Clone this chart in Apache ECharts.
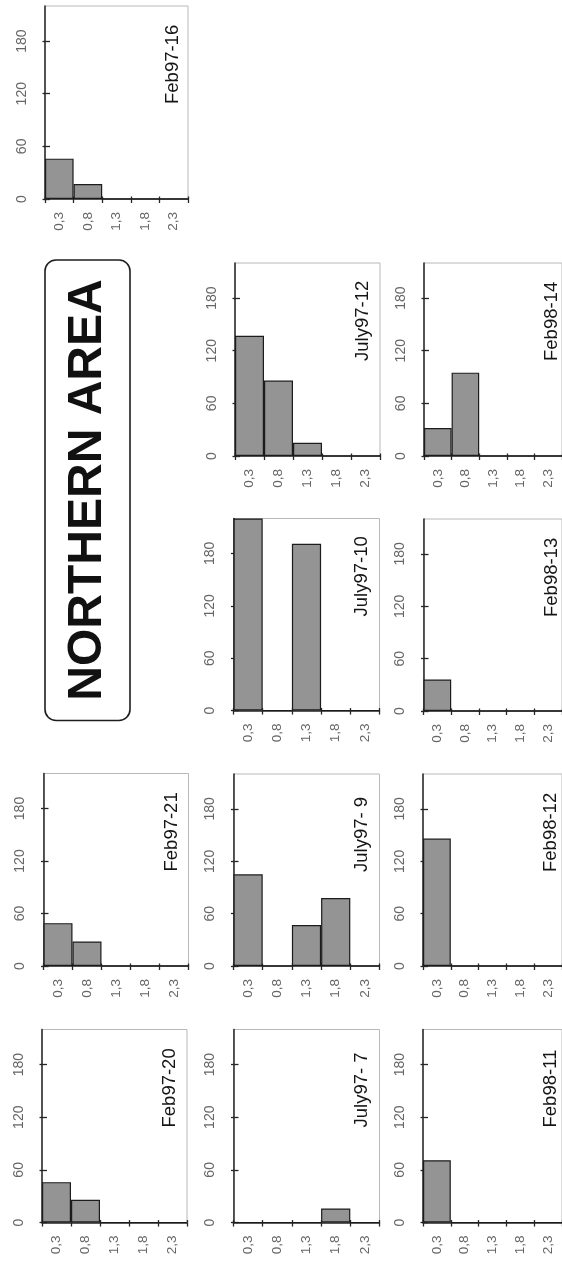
<!DOCTYPE html>
<html>
<head>
<meta charset="utf-8">
<script src="https://cdn.jsdelivr.net/npm/echarts@6/dist/echarts.min.js"></script>
<style>
  html, body { margin: 0; padding: 0; background: #ffffff; }
  #chart { width: 562px; height: 1264px; }
</style>
</head>
<body>
<div id="chart"></div>
<script>
// Size classes (category axis) and value-axis tick labels
const bins = ['0,3', '0,8', '1,3', '1,8', '2,3'];
const valueTicks = [0, 60, 120, 180];
const valueMax = 220;

// Counts per size class, one array per sample
const feb97_16  = [46, 17, 0, 0, 0];
const july97_12 = [137, 86, 15, 0, 0];
const feb98_14  = [32, 95, 0, 0, 0];
const july97_10 = [220, 0, 191, 0, 0];
const feb98_13  = [36, 0, 0, 0, 0];
const feb97_21  = [49, 28, 0, 0, 0];
const july97_9  = [105, 0, 47, 78, 0];
const feb98_12  = [146, 0, 0, 0, 0];
const feb97_20  = [46, 26, 0, 0, 0];
const july97_7  = [0, 0, 0, 16, 0];
const feb98_11  = [71, 0, 0, 0, 0];

const sampleNames = ['Feb97-16', 'July97-12', 'Feb98-14', 'July97-10', 'Feb98-13',
                     'Feb97-21', 'July97- 9', 'Feb98-12', 'Feb97-20', 'July97- 7', 'Feb98-11'];
const sampleData = [feb97_16, july97_12, feb98_14, july97_10, feb98_13,
                    feb97_21, july97_9, feb98_12, feb97_20, july97_7, feb98_11];

const areaTitle = 'NORTHERN AREA';

// Panel placement on the page: [left, top, width, height]
const panelBoxes = [
  [45, 6, 143, 193],
  [235, 263, 145, 193],
  [424, 263, 144, 193],
  [233.5, 518.5, 146, 192],
  [423.5, 519, 144, 192],
  [43.5, 773.5, 145, 192.5],
  [233.5, 774, 146, 192],
  [423, 774, 144, 192],
  [42, 1029.5, 145, 193],
  [233.5, 1029.5, 146, 193],
  [423, 1029.5, 144, 193]
];

const FONT = '"Liberation Sans", Arial, sans-serif';
const AXIS_COLOR = '#262626';
const LABEL_COLOR = '#666666';

const chart = echarts.init(document.getElementById('chart'), null, { renderer: 'canvas' });

const grids = [], xAxes = [], yAxes = [], series = [], graphics = [];
const n = panelBoxes.length;

panelBoxes.forEach((b, i) => {
  grids.push({
    left: b[0], top: b[1], width: b[2], height: b[3],
    show: true, borderColor: '#b8b8b8', borderWidth: 1, backgroundColor: '#ffffff'
  });
  xAxes.push({
    type: 'category', gridIndex: i, position: 'bottom', data: bins, boundaryGap: true,
    axisLine: { show: true, lineStyle: { color: AXIS_COLOR, width: 1.5 } },
    axisTick: { show: true, interval: 0, length: 4, lineStyle: { color: AXIS_COLOR, width: 1.3 } },
    axisLabel: { interval: 0, rotate: 90, margin: 13, color: LABEL_COLOR, fontSize: 13.5, fontFamily: FONT },
    splitLine: { show: false }
  });
  yAxes.push({
    type: 'value', gridIndex: i, position: 'left', min: 0, max: valueMax, interval: 60,
    axisLine: { show: true, lineStyle: { color: AXIS_COLOR, width: 1.5 } },
    axisTick: { show: true, inside: true, length: 5, customValues: valueTicks,
                lineStyle: { color: AXIS_COLOR, width: 1.3 } },
    axisLabel: { rotate: 90, margin: 16, customValues: valueTicks,
                 color: LABEL_COLOR, fontSize: 14, fontFamily: FONT },
    splitLine: { show: false }
  });
  series.push({
    type: 'bar', xAxisIndex: i, yAxisIndex: i, data: sampleData[i],
    barCategoryGap: '0%', silent: true,
    itemStyle: { color: '#949494', borderColor: '#1c1c1c', borderWidth: 1.2 }
  });
  // Sample name written vertically inside each panel
  graphics.push({
    type: 'text', x: b[0] + 128, y: b[1] + 98, rotation: Math.PI / 2, z: 100,
    style: { text: sampleNames[i], font: '18.5px ' + FONT, fill: '#151515',
             align: 'left', verticalAlign: 'middle' }
  });
});

// Companion axes so tick marks cross the axis lines
panelBoxes.forEach((b, i) => {
  xAxes.push({
    type: 'category', gridIndex: i, position: 'bottom', data: bins, boundaryGap: true,
    axisLine: { show: false },
    axisTick: { show: true, inside: true, interval: 0, length: 2.5, lineStyle: { color: AXIS_COLOR, width: 1.3 } },
    axisLabel: { show: false }, splitLine: { show: false }
  });
  yAxes.push({
    type: 'value', gridIndex: i, position: 'left', min: 0, max: valueMax, interval: 60,
    axisLine: { show: false },
    axisTick: { show: true, inside: false, length: 2.5, customValues: valueTicks,
                lineStyle: { color: AXIS_COLOR, width: 1.3 } },
    axisLabel: { show: false }, splitLine: { show: false }
  });
});

// Area label in a rounded frame
graphics.push({
  type: 'rect', z: 100,
  shape: { x: 45, y: 260, width: 85, height: 460.5, r: 11 },
  style: { fill: '#ffffff', stroke: '#1e1e1e', lineWidth: 1.6 }
});
graphics.push({
  type: 'text', x: 88, y: 490, rotation: Math.PI / 2, z: 101,
  style: { text: areaTitle, font: 'bold 48px ' + FONT, fill: '#111111',
           align: 'center', verticalAlign: 'middle' }
});

chart.setOption({
  animation: false,
  backgroundColor: '#ffffff',
  grid: grids,
  xAxis: xAxes,
  yAxis: yAxes,
  series: series,
  graphic: graphics
});
</script>
</body>
</html>
